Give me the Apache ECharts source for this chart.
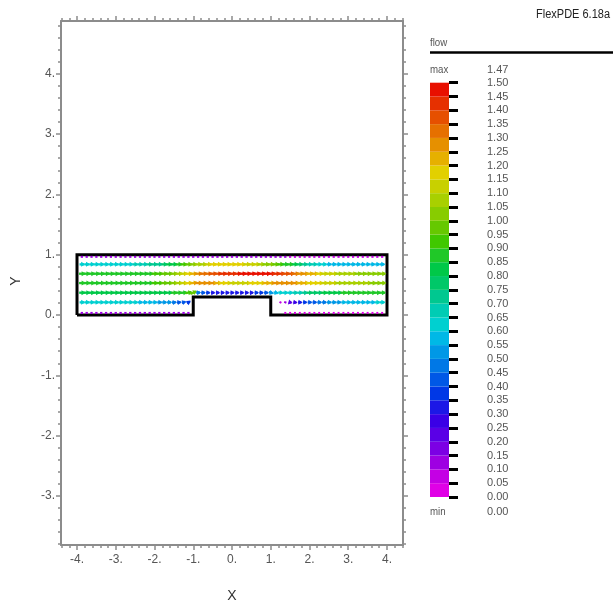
<!DOCTYPE html>
<html>
<head>
<meta charset="utf-8">
<script src="https://cdn.jsdelivr.net/npm/echarts@6/dist/echarts.min.js"></script>
<style>
html,body{margin:0;padding:0;background:#fff;}
#main{width:613px;height:606px;}
</style>
</head>
<body>
<div id="main"></div>
<script>
// ---------------- data ----------------
const X_TICKS = [-4, -3, -2, -1, 0, 1, 2, 3, 4];
const Y_TICKS = [-3, -2, -1, 0, 1, 2, 3, 4];
const XS = [-3.875,-3.75,-3.625,-3.5,-3.375,-3.25,-3.125,-3,-2.875,-2.75,-2.625,-2.5,-2.375,-2.25,-2.125,-2,
  -1.875,-1.75,-1.625,-1.5,-1.375,-1.25,-1.125,-1,-0.875,-0.75,-0.625,-0.5,-0.375,-0.25,-0.125,0,
  0.125,0.25,0.375,0.5,0.625,0.75,0.875,1,1.125,1.25,1.375,1.5,1.625,1.75,1.875,2,
  2.125,2.25,2.375,2.5,2.625,2.75,2.875,3,3.125,3.25,3.375,3.5,3.625,3.75,3.875];
const ROW_Y = [0.965, 0.84, 0.685, 0.53, 0.37, 0.21, 0.035];

const SPEED_TOP_WALL = [0.10,0.10,0.10,0.10,0.10,0.10,0.10,0.10,0.10,0.10,0.10,0.10,0.10,0.10,0.10,0.10,0.10,0.10,0.10,0.10,
  0.12,0.12,0.12,0.12,0.12,0.12,0.12,0.12,0.12,0.12,0.12,0.12,0.12,0.12,0.12,0.12,0.12,0.12,0.12,0.12,0.12,0.12,0.12,
  0.09,0.09,0.09,0.09,0.09,0.09,0.09,0.09,0.09,0.09,0.09,0.09,0.09,0.09,0.09,0.09,0.09,0.09,0.09,0.09];
const SPEED_ROW1 = [0.64,0.64,0.64,0.64,0.64,0.64,0.64,0.64,0.64,0.64,0.64,
  0.66,0.67,0.68,0.70,0.72,0.74,
  0.77,0.80,0.84,0.88,0.92,0.97,1.02,1.06,1.09,1.12,1.15,
  1.17,1.18,1.18,1.18,1.17,
  1.16,1.14,1.12,1.10,1.07,1.04,1.01,0.97,0.93,0.89,0.85,0.81,0.77,0.73,0.69,0.66,0.63,0.61,0.59,
  0.58,0.57,0.57,0.56,0.56,0.56,0.55,0.55,0.55,0.55,0.55];
const SPEED_ROW2 = [0.86,0.86,0.86,0.86,0.86,0.86,0.87,0.87,0.87,0.87,0.88,0.88,0.88,0.89,0.89,
  0.90,0.92,0.95,0.99,1.03,1.07,1.12,1.17,1.22,1.27,1.31,1.34,1.37,
  1.39,1.41,1.42,1.43,1.44,1.45,1.46,1.46,1.47,1.46,1.46,
  1.45,1.43,1.41,1.38,1.35,1.32,1.29,1.26,1.23,1.20,1.17,1.14,1.12,
  1.10,1.08,1.07,1.06,1.05,1.04,1.03,1.02,1.01,1.00,1.00];
const SPEED_ROW3 = [0.85,0.85,0.85,0.85,0.85,0.85,0.85,0.86,0.86,0.86,0.86,0.87,0.87,0.88,0.89,
  0.90,0.92,0.95,0.99,1.03,1.07,1.11,1.16,1.21,1.25,1.27,1.27,1.26,
  1.22,1.19,1.16,1.14,1.13,1.13,1.14,1.15,1.17,1.19,1.21,
  1.23,1.25,1.27,1.28,1.27,1.25,1.23,1.21,1.19,1.17,1.15,1.13,1.11,
  1.10,1.09,1.08,1.07,1.06,1.06,1.05,1.05,1.04,1.04,1.04];
const SPEED_ROW4 = [0.80,0.80,0.80,0.80,0.80,0.80,0.80,0.80,0.80,0.80,0.80,0.80,0.80,0.80,0.81,
  0.81,0.82,0.83,0.84,0.85,0.86,0.88,0.94,0.98,
  0.45,0.40,0.36,0.34,0.32,0.32,0.32,0.32,0.32,0.32,0.32,0.33,0.35,0.38,0.42,
  0.50,0.57,0.60,0.62,0.64,0.66,0.69,0.72,0.75,0.77,0.79,0.81,0.82,0.83,0.84,
  0.85,0.85,0.85,0.85,0.85,0.85,0.85,0.85,0.85];
const SPEED_ROW5 = [0.62,0.62,0.62,0.62,0.62,0.62,0.62,0.62,0.61,0.61,0.60,0.60,
  0.59,0.58,0.57,0.56,0.54,0.52,0.50,0.47,0.44,0.40,0.36,
  null,null,null,null,null,null,null,null,null,null,null,null,null,null,null,null,null,null,
  0.08,0.13,0.20,0.26,0.32,0.37,0.41,0.44,0.47,0.49,0.51,0.53,0.54,0.55,0.56,0.57,0.58,0.58,0.59,0.59,0.60,0.60];
const SPEED_BOTTOM_WALL = [0.12,0.12,0.12,0.12,0.12,0.12,0.12,0.12,0.12,0.12,0.12,0.12,0.12,0.12,0.12,0.12,0.12,0.12,0.12,0.12,0.12,0.12,0.12,
  null,null,null,null,null,null,null,null,null,null,null,null,null,null,null,null,null,null,null,
  0.04,0.04,0.04,0.04,0.04,0.04,0.04,0.04,0.04,0.04,0.04,0.04,0.04,0.04,0.04,0.04,0.04,0.04,0.04,0.04,0.04];
const ROW_SPEEDS = [SPEED_TOP_WALL, SPEED_ROW1, SPEED_ROW2, SPEED_ROW3, SPEED_ROW4, SPEED_ROW5, SPEED_BOTTOM_WALL];
// [row, column, direction in degrees]
const TILTS = [[5,19,4],[5,20,8],[5,21,16],[5,22,32],[4,21,4],[4,22,10],[4,23,22],[4,24,6],[3,22,4],[3,23,6],
  [5,41,-30],[5,42,-22],[5,43,-14],[5,44,-8],[5,45,-4],[4,39,-14],[4,40,-10],[4,41,-6]];

const BOUNDARY_X = [-4, -4, 4, 4, 1, 1, -1, -1, -4];
const BOUNDARY_Y = [0, 1, 1, 0, 0, 0.3, 0.3, 0, 0];

const LEGEND_TICKS = [0,0.05,0.1,0.15,0.2,0.25,0.3,0.35,0.4,0.45,0.5,0.55,0.6,0.65,0.7,0.75,
  0.8,0.85,0.9,0.95,1,1.05,1.1,1.15,1.2,1.25,1.3,1.35,1.4,1.45,1.5];
const FLOW_MAX = 1.47, FLOW_MIN = 0.00;

// ---------------- styles ----------------
const PALETTE = ['#e000e6','#c400e4','#9e00e2','#7c00e4','#5a00e6','#3a00e6','#1c18e6','#0038e6','#0058e6','#0078e6',
  '#0098e6','#00b8e6','#00d0d0','#00ccb4','#00c890','#00c868','#00c848','#20c828','#40c800','#66c800',
  '#88cc00','#a8d000','#c8d000','#e2d000','#e6b000','#e69000','#e67000','#e65000','#e63000','#e81000'];
const FONT = "'Liberation Sans Narrow','Arial Narrow','Liberation Sans',Arial,sans-serif";
const FRAME = '#8c8c8c';
const XMIN = -4.413, XMAX = 4.413, YMIN = -3.814, YMAX = 4.876;

function colorFor(s) {
  let i = Math.floor(s / 0.05 + 1e-9);
  if (i < 0) i = 0; if (i > 29) i = 29;
  return PALETTE[i];
}
function minorTicks(lo, hi) {
  const out = [];
  for (let i = Math.ceil(lo * 5 - 1e-9); i <= Math.floor(hi * 5 + 1e-9); i++) {
    if (i % 5 !== 0) out.push(i / 5);
  }
  return out;
}
const X_MINOR = minorTicks(XMIN, XMAX);
const Y_MINOR = minorTicks(YMIN, YMAX);

// build arrow points
const tiltMap = {};
TILTS.forEach(t => { tiltMap[t[0] + '_' + t[1]] = t[2]; });
const arrowData = [];
ROW_SPEEDS.forEach((row, r) => {
  row.forEach((s, k) => {
    if (s === null || s === undefined) return;
    arrowData.push([XS[k], ROW_Y[r], s, tiltMap[r + '_' + k] || 0]);
  });
});
const legendCells = [];
for (let i = 0; i < LEGEND_TICKS.length - 1; i++) legendCells.push([LEGEND_TICKS[i], LEGEND_TICKS[i + 1], i]);

function frameX(pos, values, len, labels) {
  return {
    gridIndex: 0, type: 'value', position: pos, min: XMIN, max: XMAX,
    axisLine: { show: labels !== null, onZero: false, lineStyle: { color: FRAME, width: 2 } },
    axisTick: { show: true, customValues: values, length: len, lineStyle: { color: FRAME, width: 1.5 } },
    axisLabel: labels ? { show: true, customValues: values, formatter: v => v + '.', margin: 9, color: '#555', fontSize: 12, fontFamily: FONT } : { show: false },
    splitLine: { show: false }
  };
}
function frameY(pos, values, len, labels) {
  return {
    gridIndex: 0, type: 'value', position: pos, min: YMIN, max: YMAX,
    axisLine: { show: labels !== null, onZero: false, lineStyle: { color: FRAME, width: 2 } },
    axisTick: { show: true, customValues: values, length: len, lineStyle: { color: FRAME, width: 1.5 } },
    axisLabel: labels ? { show: true, customValues: values, formatter: v => v + '.', margin: 6, color: '#555', fontSize: 12, fontFamily: FONT } : { show: false },
    splitLine: { show: false }
  };
}

const chart = echarts.init(document.getElementById('main'), null, { renderer: 'canvas' });
chart.setOption({
  animation: false,
  backgroundColor: '#fff',
  grid: [
    { left: 61, top: 21, width: 342, height: 524 },
    { left: 430, top: 82.7, width: 19, height: 414.3 }
  ],
  xAxis: [
    frameX('bottom', X_TICKS, 5, true),
    frameX('bottom', X_MINOR, 3, null),
    frameX('top', X_TICKS, 5, false),
    frameX('top', X_MINOR, 3, null),
    { gridIndex: 1, type: 'value', min: 0, max: 1, show: false }
  ],
  yAxis: [
    frameY('left', Y_TICKS, 5, true),
    frameY('left', Y_MINOR, 3, null),
    frameY('right', Y_TICKS, 5, false),
    frameY('right', Y_MINOR, 3, null),
    {
      gridIndex: 1, type: 'value', position: 'right', min: 0, max: 1.5,
      axisLine: { show: false, onZero: false },
      axisTick: { show: true, customValues: LEGEND_TICKS, length: 9, lineStyle: { color: '#000', width: 3 } },
      axisLabel: { show: true, customValues: LEGEND_TICKS, formatter: v => v.toFixed(2), margin: 38, color: '#555', fontSize: 11, fontFamily: FONT },
      splitLine: { show: false }
    }
  ],
  series: [
    {
      type: 'line', xAxisIndex: 0, yAxisIndex: 0, z: 2, silent: true,
      data: BOUNDARY_X.map((x, i) => [x, BOUNDARY_Y[i]]),
      symbol: 'none', lineStyle: { color: '#000', width: 3, join: 'miter' }
    },
    {
      type: 'custom', xAxisIndex: 0, yAxisIndex: 0, z: 3, silent: true,
      data: arrowData, encode: { x: 0, y: 1 },
      renderItem: function (params, api) {
        const s = api.value(2);
        const ang = api.value(3) * Math.PI / 180;
        const c = api.coord([api.value(0), api.value(1)]);
        const L = 1.8 + s * 4.4;
        const ux = Math.cos(ang), uy = -Math.sin(ang);
        const px = -uy, py = ux;
        const hx = c[0] + ux * L / 2, hy = c[1] + uy * L / 2;
        const tx = c[0] - ux * L / 2, ty = c[1] - uy * L / 2;
        const col = colorFor(s);
        const children = [{ type: 'line', shape: { x1: tx, y1: ty, x2: hx, y2: hy }, style: { stroke: col, lineWidth: s < 0.2 ? 2 : 2.3 } }];
        if (s >= 0.2) {
          const hl = 3, hw = 2.5;
          children.push({ type: 'polygon', shape: { points: [
            [hx + ux * 1.2, hy + uy * 1.2],
            [hx - ux * hl + px * hw, hy - uy * hl + py * hw],
            [hx - ux * hl - px * hw, hy - uy * hl - py * hw]] }, style: { fill: col } });
        }
        return { type: 'group', children: children };
      }
    },
    {
      type: 'custom', xAxisIndex: 4, yAxisIndex: 4, silent: true,
      data: legendCells,
      renderItem: function (params, api) {
        const p0 = api.coord([0, api.value(1)]);
        const p1 = api.coord([1, api.value(0)]);
        return { type: 'rect', shape: { x: p0[0], y: p0[1], width: p1[0] - p0[0], height: p1[1] - p0[1] },
          style: { fill: PALETTE[api.value(2)] } };
      }
    }
  ],
  graphic: [
    { type: 'text', x: 610, y: 15, scaleX: 0.88, style: { text: 'FlexPDE 6.18a', textAlign: 'right', textVerticalAlign: 'middle', fill: '#222', font: '12.5px ' + FONT } },
    { type: 'text', x: 430, y: 43, scaleX: 0.88, style: { text: 'flow', textAlign: 'left', textVerticalAlign: 'middle', fill: '#555', font: '11px ' + FONT } },
    { type: 'line', shape: { x1: 430, y1: 52.5, x2: 613, y2: 52.5 }, style: { stroke: '#000', lineWidth: 2.5 } },
    { type: 'text', x: 430, y: 70, scaleX: 0.88, style: { text: 'max', textAlign: 'left', textVerticalAlign: 'middle', fill: '#555', font: '11px ' + FONT } },
    { type: 'text', x: 487, y: 70, style: { text: FLOW_MAX.toFixed(2), textAlign: 'left', textVerticalAlign: 'middle', fill: '#555', font: '11px ' + FONT } },
    { type: 'text', x: 430, y: 512, scaleX: 0.88, style: { text: 'min', textAlign: 'left', textVerticalAlign: 'middle', fill: '#555', font: '11px ' + FONT } },
    { type: 'text', x: 487, y: 512, style: { text: FLOW_MIN.toFixed(2), textAlign: 'left', textVerticalAlign: 'middle', fill: '#555', font: '11px ' + FONT } },
    { type: 'text', x: 232, y: 596, style: { text: 'X', textAlign: 'center', textVerticalAlign: 'middle', fill: '#333', font: '14px ' + FONT } },
    { type: 'text', x: 16, y: 281, rotation: Math.PI / 2, style: { text: 'Y', textAlign: 'center', textVerticalAlign: 'middle', fill: '#333', font: '14px ' + FONT } }
  ]
});
</script>
</body>
</html>
